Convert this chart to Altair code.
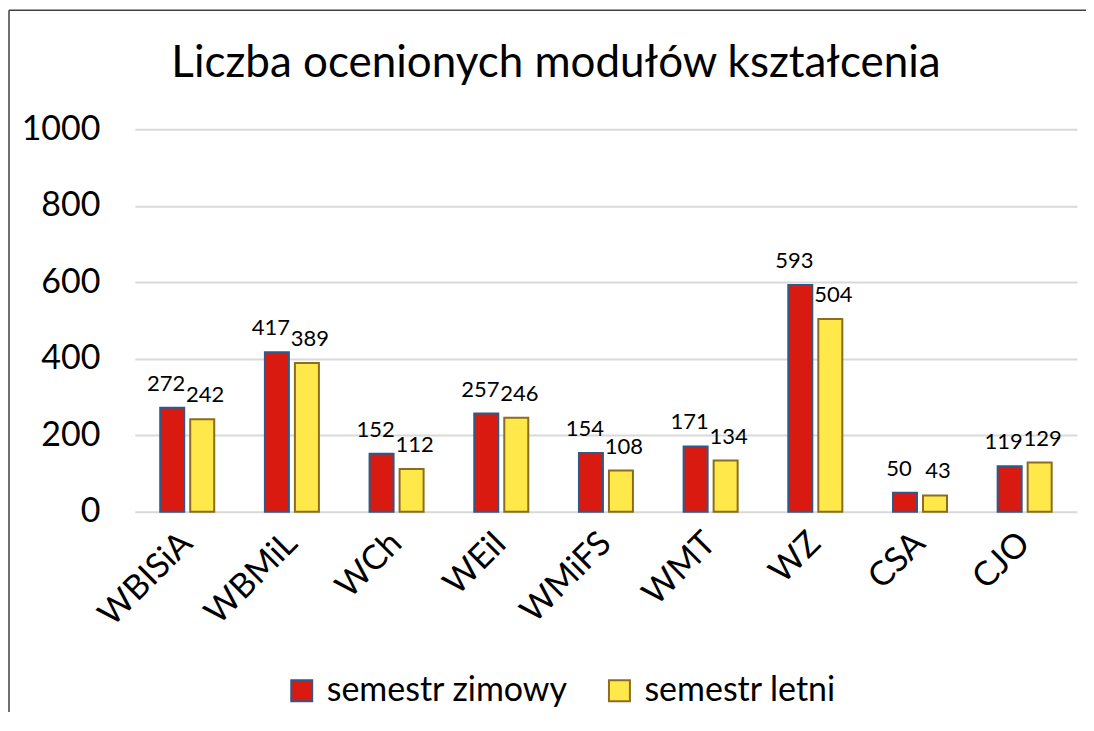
import altair as alt
import pandas as pd

categories = ["WBISiA", "WBMiL", "WCh", "WEiI", "WMiFS", "WMT", "WZ", "CSA", "CJO"]
zimowy = [272, 417, 152, 257, 154, 171, 593, 50, 119]
letni = [242, 389, 112, 246, 108, 134, 504, 43, 129]
series = ["semestr zimowy", "semestr letni"]
title_text = "Liczba ocenionych modułów kształcenia"

rows = []
for c, z, l in zip(categories, zimowy, letni):
    rows.append({"wydzial": c, "semestr": series[0], "liczba": z})
    rows.append({"wydzial": c, "semestr": series[1], "liczba": l})
df = pd.DataFrame(rows)

FONT = "Lato"
W, H = 943, 383

xenc = alt.X("wydzial:N", sort=categories,
             scale=alt.Scale(paddingInner=0.484, paddingOuter=0.242),
             axis=alt.Axis(title=None, labelAngle=-45, labelAlign="right", labelBaseline="middle",
                           labelFontSize=34, labelFont=FONT, labelColor="#000000",
                           ticks=False, domain=False, labelPadding=26, labelOverlap=False))
xoff = alt.XOffset("semestr:N", sort=series, scale=alt.Scale(paddingInner=0.2))
yenc = alt.Y("liczba:Q", scale=alt.Scale(domain=[0, 1000]),
             axis=alt.Axis(title=None, values=[0, 200, 400, 600, 800, 1000], format="d",
                           labelFontSize=34, labelFont=FONT, labelColor="#000000", ticks=False,
                           domain=False, labelPadding=35, gridColor="#D9D9D9", gridWidth=2))

color = alt.Color("semestr:N", sort=series,
                  scale=alt.Scale(domain=series, range=["#D81A10", "#FFE94A"]),
                  legend=alt.Legend(title=None, orient="none", legendX=150, legendY=545,
                                    direction="horizontal", labelFontSize=34, labelFont=FONT,
                                    labelColor="#000000", symbolType="square", symbolSize=440,
                                    symbolStrokeWidth=2, columnPadding=34, labelOffset=8,
                                    labelLimit=0))
stroke = alt.Stroke("semestr:N", sort=series,
                    scale=alt.Scale(domain=series, range=["#2E5A88", "#8C6D1F"]), legend=None)

bars = alt.Chart(df).mark_bar(strokeWidth=2).encode(x=xenc, xOffset=xoff, y=yenc, color=color, stroke=stroke)

def label_layer(s, dx):
    return alt.Chart(df).transform_filter(alt.datum.semestr == s).mark_text(
        baseline="bottom", dy=-12, dx=dx, fontSize=22, font=FONT, color="#000000").encode(
        x=alt.X("wydzial:N", sort=categories), xOffset=alt.XOffset("semestr:N", sort=series),
        y="liczba:Q", text="liczba:Q")

title = alt.Chart(pd.DataFrame({"t": [title_text]})).mark_text(
    fontSize=44, font=FONT, color="#000000", align="center", baseline="alphabetic").encode(
    x=alt.value(W / 2 - 50), y=alt.value(-52), text="t:N")

frame_top = alt.Chart(pd.DataFrame({"a": [0]})).mark_rule(color="#404040", strokeWidth=1.5).encode(
    x=alt.value(-126), x2=alt.value(W + 20), y=alt.value(-119))
frame_left = alt.Chart(pd.DataFrame({"a": [0]})).mark_rule(color="#404040", strokeWidth=1.5).encode(
    x=alt.value(-126), y=alt.value(-119), y2=alt.value(H + 220))

chart = alt.layer(bars, label_layer(series[0], -6), label_layer(series[1], 3), title,
                  frame_top, frame_left).properties(
    width=W, height=H,
    autosize=alt.AutoSizeParams(type="none"),
    padding={"left": 127, "top": 121, "right": 9, "bottom": 200},
).configure_view(stroke=None)

chart.save("out.html", embed_options={"renderer": "svg", "actions": False})
